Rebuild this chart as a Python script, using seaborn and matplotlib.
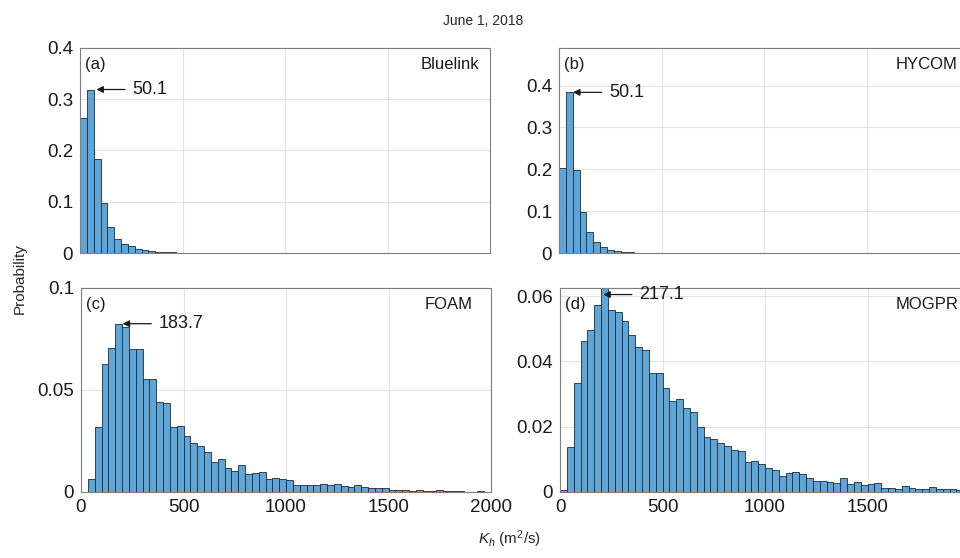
import numpy as np
import pandas as pd
import seaborn as sns
import matplotlib
matplotlib.use("Agg")
import matplotlib.pyplot as plt

# bin edges: 60 bins of ~33.3 m2/s from 0 to 2000
edges = np.linspace(0, 2000, 61)
centers = (edges[:-1] + edges[1:]) / 2

# probabilities per bin
bluelink = [0.263, 0.319, 0.184, 0.097, 0.050, 0.027, 0.018, 0.013, 0.008, 0.005,
            0.004, 0.002, 0.0015, 0.001]
hycom = [0.203, 0.384, 0.199, 0.098, 0.049, 0.026, 0.015, 0.008, 0.005, 0.0025,
         0.0016, 0.001, 0.0005]
foam = [0, 0.0064, 0.032, 0.0628, 0.0708, 0.0825, 0.0807, 0.0702, 0.0702, 0.0552,
        0.0556, 0.0443, 0.0438, 0.032, 0.0325, 0.0274, 0.0238, 0.0226, 0.0197, 0.0148,
        0.0161, 0.0118, 0.0103, 0.0134, 0.0087, 0.0095, 0.0097, 0.0062, 0.0069, 0.0066,
        0.0057, 0.0036, 0.0033, 0.0036, 0.0035, 0.0037, 0.0032, 0.0038, 0.0030, 0.0026,
        0.0034, 0.0024, 0.0020, 0.0022, 0.0021, 0.0008, 0.0009, 0.0008, 0.0007, 0.0008,
        0.0006, 0.0005, 0.0009, 0.0004, 0.0003, 0.0006, 0.0002, 0.0002, 0.0003, 0.0001]
mogpr = [0.0007, 0.0138, 0.0333, 0.0462, 0.0495, 0.0574, 0.066, 0.0559, 0.0551, 0.0525,
         0.0480, 0.0443, 0.0436, 0.0364, 0.0364, 0.0318, 0.0280, 0.0284, 0.0256, 0.0244,
         0.0200, 0.0167, 0.0161, 0.0149, 0.0142, 0.0128, 0.0126, 0.0092, 0.0094, 0.0085,
         0.0075, 0.0067, 0.0049, 0.0058, 0.0062, 0.0056, 0.0043, 0.0034, 0.0034, 0.0031,
         0.0028, 0.0043, 0.0024, 0.0031, 0.0021, 0.0023, 0.0028, 0.0013, 0.0013, 0.0010,
         0.0018, 0.0013, 0.0008, 0.0008, 0.0015, 0.0008, 0.0010, 0.0008, 0.0005, 0.0006]

models = ["Bluelink", "HYCOM", "FOAM", "MOGPR"]
panel_tags = ["(a)", "(b)", "(c)", "(d)"]
peak_labels = ["50.1", "50.1", "183.7", "217.1"]
series = [bluelink, hycom, foam, mogpr]

yticks = [[0, 0.1, 0.2, 0.3, 0.4], [0, 0.1, 0.2, 0.3, 0.4],
          [0, 0.05, 0.1], [0, 0.02, 0.04, 0.06]]
ytop = [0.4, 0.49, 0.1, 0.0625]
xticks = [0, 500, 1000, 1500, 2000]

sns.set_style("white")
plt.rcParams['font.family'] = ['Liberation Sans', 'DejaVu Sans']
plt.rcParams['mathtext.fontset'] = 'custom'
plt.rcParams['mathtext.rm'] = 'Liberation Sans'
plt.rcParams['mathtext.it'] = 'Liberation Sans:italic'

fig = plt.figure(figsize=(9.6, 5.58), dpi=100)
# [left, bottom, width, height] in figure fraction
boxes = [[80/960, 1-253/558, 410/960, 205/558],
         [559/960, 1-253/558, 410/960, 205/558],
         [81/960, 1-492/558, 410/960, 204/558],
         [560/960, 1-492/558, 410/960, 204/558]]
# arrow head positions (data coords)
heads = [(80, 0.319), (68, 0.384), (203, 0.0825), (211, 0.0605)]
bar_color = '#5EA5D8'
edge_color = '#1f2a33'
bin_list = edges.tolist()

for i in range(4):
    ax = fig.add_axes(boxes[i])
    vals = series[i]
    df = pd.DataFrame({'Kh': centers[:len(vals)], 'p': vals})
    sns.histplot(data=df, x='Kh', weights='p', bins=bin_list, ax=ax,
                 color=bar_color, edgecolor=edge_color, linewidth=0.6, alpha=1)
    ax.set_xlim(0, 2000)
    ax.set_ylim(0, ytop[i])
    ax.set_xticks(xticks)
    ax.set_yticks(yticks[i])
    ax.set_yticklabels(['%g' % v for v in yticks[i]])
    if i < 2:
        ax.set_xticklabels([])
    elif i == 2:
        ax.set_xticklabels(['%g' % v for v in xticks])
    else:
        # right end of panel (d) runs off the figure, its last label is not shown
        ax.set_xticklabels(['%g' % v for v in xticks[:-1]] + [''])
    ax.set_xlabel('')
    ax.set_ylabel('')
    ax.grid(True, color='#e3e3e3', linewidth=0.8)
    ax.set_axisbelow(True)
    ax.tick_params(direction='in', length=3, labelsize=13.5, color='#444444',
                   labelcolor='#1a1a1a', pad=5)
    for s in ax.spines.values():
        s.set_color('#7f7f7f')
        s.set_linewidth(0.8)
    ax.text(0.012, 0.955, panel_tags[i], transform=ax.transAxes, fontsize=12,
            ha='left', va='top', color='#1a1a1a')
    ax.text(0.973 if i != 2 else 0.955, 0.955, models[i], transform=ax.transAxes,
            fontsize=12, ha='right', va='top', color='#1a1a1a')
    ax.annotate(peak_labels[i], xy=heads[i], xytext=(26, 0),
                textcoords='offset points', va='center', ha='left',
                fontsize=13, color='#1a1a1a', annotation_clip=False,
                arrowprops=dict(arrowstyle='-|>', color='#1a1a1a', lw=0.9,
                                mutation_scale=10, shrinkA=3, shrinkB=0))

fig.text(0.503, 0.963, 'June 1, 2018', ha='center', va='center', fontsize=10)
fig.text(0.021, 0.50, 'Probability', ha='center', va='center', rotation=90, fontsize=11)
fig.text(0.531, 0.034, r'$K_h$ (m$^2$/s)', ha='center', va='center', fontsize=11)

fig.savefig('out.png', dpi=100)
